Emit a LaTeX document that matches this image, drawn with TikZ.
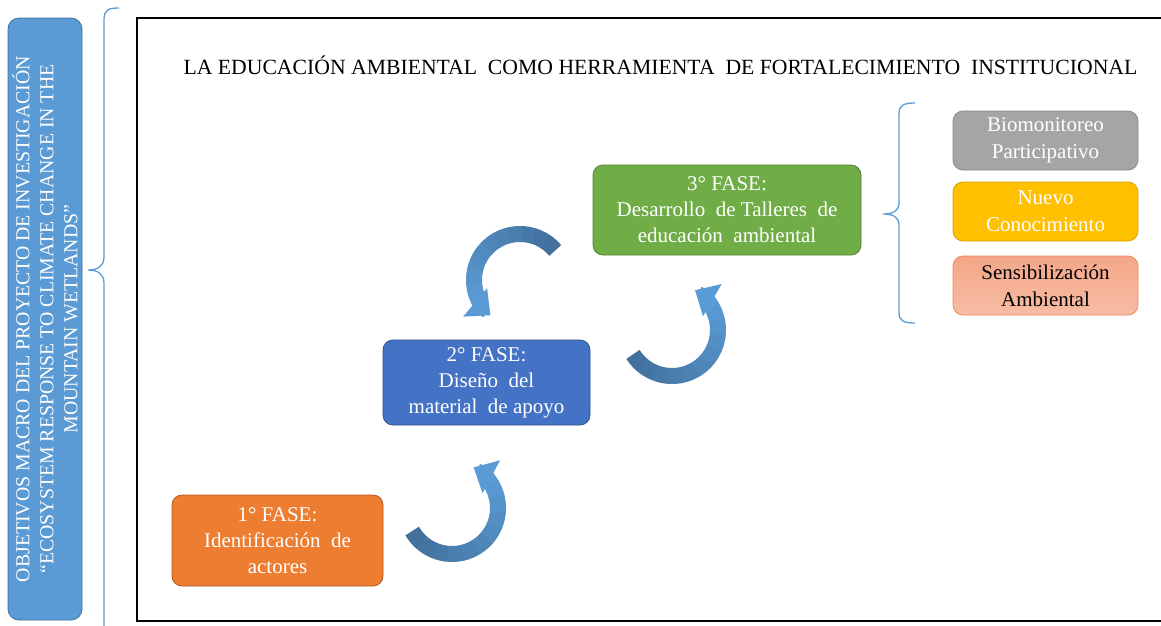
\documentclass[tikz,border=0pt]{standalone}
\usepackage{fontspec}
\setmainfont{Liberation Serif}
\usetikzlibrary{arrows.meta}
\definecolor{sideblue}{HTML}{5B9BD5}
\definecolor{sideblueb}{HTML}{41719C}
\definecolor{greenf}{HTML}{70AD47}
\definecolor{greenb}{HTML}{507E32}
\definecolor{bluef}{HTML}{4472C4}
\definecolor{blueb}{HTML}{2F528F}
\definecolor{orangef}{HTML}{ED7D31}
\definecolor{orangeb}{HTML}{AE5A21}
\definecolor{grayf}{HTML}{A5A5A5}
\definecolor{grayb}{HTML}{8A8A8A}
\definecolor{yellowf}{HTML}{FFC000}
\definecolor{yellowb}{HTML}{D9A300}
\definecolor{salmontop}{HTML}{F4A788}
\definecolor{salmonbot}{HTML}{F6BCA4}
\definecolor{salmonb}{HTML}{F08A5A}
\definecolor{arrowdark}{HTML}{41719C}
\definecolor{arrowlight}{HTML}{5B9BD5}
\newcommand\bendarrow[4]{%
  % #1 centre, #2 tail angle, #3 tip angle, #4 direction (+1/-1)
  \pgfmathsetmacro\arcM{#3-30*#4}%
  \foreach \k in {0,...,9}{%
    \pgfmathsetmacro\arcA{#2+(\arcM-(#2))*\k/10}%
    \pgfmathsetmacro\arcB{#2+(\arcM-(#2))*(\k+1)/10+#4}%
    \pgfmathsetmacro\arcP{100-\k*10}%
    \draw[arrowband, draw=arrowdark!\arcP!arrowlight, shift={(#1)}]
      (\arcA:46) arc[start angle=\arcA, end angle=\arcB, radius=46];
  }%
  \draw[arrowband, draw=arrowlight, shift={(#1)}, -{Triangle[width=36pt,length=20pt]}]
    (\arcM:46) arc[start angle=\arcM, end angle=#3, radius=46];
}
\begin{document}
\begin{tikzpicture}[x=1pt,y=-1pt,
  phase/.style={rectangle, rounded corners=10, inner sep=0pt, align=center,
    text=white, line width=0.8pt, font=\fontsize{21}{26}\selectfont},
  sidebox/.style={rectangle, rounded corners=10, inner sep=0pt, align=center,
    line width=0.8pt, minimum width=185, minimum height=59,
    font=\fontsize{21}{27}\selectfont},
  bracel/.style={draw=sideblue, line width=1.3pt},
  arrowband/.style={line width=16pt, line cap=butt}]
\useasboundingbox (0,0) rectangle (1161,625);
\fill[white] (0,0) rectangle (1161,625);

% main frame
\draw[black, line width=1.6pt] (137,18) rectangle (1175,621);

% left side box
\node[rectangle, rounded corners=11, draw=sideblueb, fill=sideblue, line width=0.8pt,
  rotate=90, minimum width=602, minimum height=74, inner sep=0pt, align=center,
  text=white, font=\fontsize{19.8}{24}\selectfont] (side) at (45,319)
  {OBJETIVOS MACRO  DEL PROYECTO DE INVESTIGACIÓN\\
   “ECOSYSTEM RESPONSE TO CLIMATE CHANGE IN THE\\
   MOUNTAIN WETLANDS”};

% left brace
\draw[bracel] (119,8) .. controls (108,8) and (104,10) .. (104,20) -- (104,257)
  .. controls (104,266) and (98,270) .. (88,270)
  .. controls (98,270) and (104,274) .. (104,283) -- (104,630);

% title
\node[font=\fontsize{21.7}{24}\selectfont] (title) at (660.5,65)
  {LA EDUCACIÓN AMBIENTAL\ \ COMO HERRAMIENTA\ \ DE FORTALECIMIENTO\ \ INSTITUCIONAL};

% phases
\node[phase, draw=greenb, fill=greenf, minimum width=268, minimum height=90] (f3) at (727,210)
  {3° FASE:\\Desarrollo\ \ de Talleres\ \ de\\educación\ \ ambiental};
\node[phase, draw=blueb, fill=bluef, minimum width=207, minimum height=85] (f2) at (486.5,382.5)
  {2° FASE:\\Diseño\ \ del\\material\ \ de apoyo};
\node[phase, draw=orangeb, fill=orangef, minimum width=211, minimum height=91] (f1) at (277.5,540.5)
  {1° FASE:\\Identificación\ \ de\\actores};

% right brace
\draw[bracel] (915,103) .. controls (904,103) and (899,105) .. (899,114) -- (899,203)
  .. controls (899,211) and (893,214) .. (883,214)
  .. controls (893,214) and (899,217) .. (899,225) -- (899,313)
  .. controls (899,321) and (904,323) .. (915,323);

% outcome boxes
\node[sidebox, draw=grayb, fill=grayf, text=white] (b1) at (1045.5,140.5)
  {Biomonitoreo\\Participativo};
\node[sidebox, draw=yellowb, fill=yellowf, text=white] (b2) at (1045.5,211.5)
  {Nuevo\\Conocimiento};
\node[sidebox, draw=salmonb, top color=salmontop, bottom color=salmonbot, text=black] (b3) at (1045.5,285.5)
  {Sensibilización\\Ambiental};

% curved arrows
\bendarrow{452,508}{150}{-62}{-1}
\bendarrow{672,330}{148}{-60}{-1}
\bendarrow{520,280}{-40}{-230}{-1}
\end{tikzpicture}
\end{document}
